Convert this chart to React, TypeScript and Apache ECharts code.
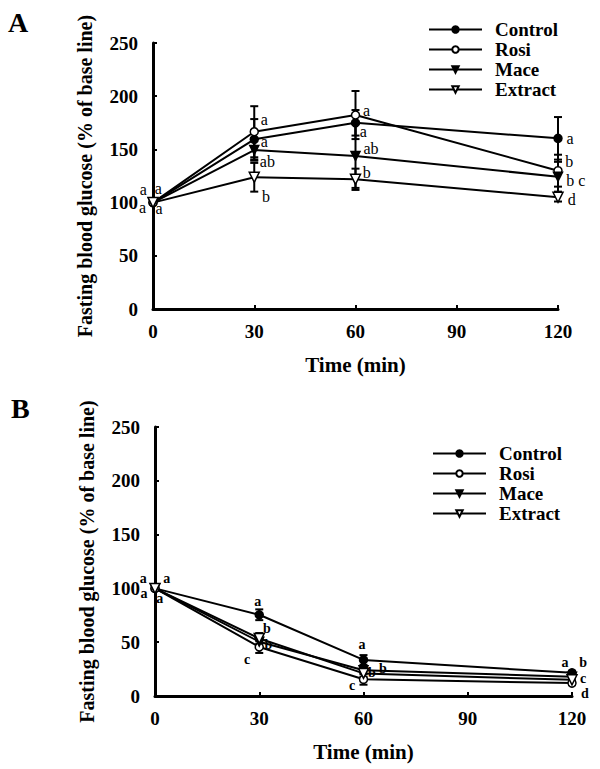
import React, { useEffect, useRef } from 'react';
import * as echarts from 'echarts';

const times = [0, 30, 60, 120];
const seriesNames = ['Control', 'Rosi', 'Mace', 'Extract'];
const xTicks = [0, 30, 60, 90, 120];
const yTicks = [0, 50, 100, 150, 200, 250];

// Panel A values (% of base line) and SEM
const aControl = [100, 159.5, 175, 160.4];
const aControlErr = [0, 19, 12, 20];
const aRosi = [100, 166.6, 182.3, 130];
const aRosiErr = [0, 24, 22.6, 15];
const aMace = [100, 149.4, 143.8, 124.3];
const aMaceErr = [0, 10, 30, 14];
const aExtract = [100, 123.8, 121.9, 105];
const aExtractErr = [0, 13.5, 10, 4];

// Panel B values
const bControl = [100, 75.5, 33.5, 21.5];
const bControlErr = [0, 5, 4.5, 2];
const bRosi = [100, 45.5, 15.5, 12];
const bRosiErr = [0, 5.5, 5, 2];
const bMace = [100, 50.5, 24, 18];
const bMaceErr = [0, 5, 3, 2];
const bExtract = [100, 53.5, 21, 15];
const bExtractErr = [0, 5, 3, 2];

// Significance letters: [time, value, text]
const aLetters: [number, number, string][] = [
  [-2.9, 112, 'a'], [1.6, 113, 'a'], [-3.1, 95, 'a'], [1.8, 94, 'a'],
  [33, 178, 'a'], [33, 157.5, 'a'], [33.9, 139, 'ab'], [33.5, 105.5, 'b'],
  [63.3, 187, 'a'], [62.3, 167, 'a'], [64.6, 150.5, 'ab'], [63.3, 128, 'b'],
  [123.6, 160.4, 'a'], [123.3, 139, 'b'], [125.3, 121, 'b c'], [124.1, 103, 'd'],
];
const bLetters: [number, number, string][] = [
  [-3.4, 109, 'a'], [3.4, 109, 'a'], [-3.2, 95, 'a'], [1.4, 91, 'a'],
  [29.6, 87.4, 'a'], [32.2, 63, 'b'], [32.6, 48, 'b'], [26.5, 33.5, 'c'],
  [59.6, 47.4, 'a'], [56.7, 10.2, 'c'], [62.4, 21.4, 'b'], [65.6, 25.1, 'b'],
  [118, 31, 'a'], [123.2, 31.5, 'b'], [123.2, 16.5, 'c'], [123.7, 2, 'd'],
];

const FONT = '"Liberation Serif", "Times New Roman", serif';

const symbols: Record<string, any> = {
  Control: { symbol: 'circle', size: 8, rotate: 0, fill: '#000' },
  Rosi: { symbol: 'circle', size: 8, rotate: 0, fill: '#fff' },
  Mace: { symbol: 'triangle', size: 9, rotate: 180, fill: '#000' },
  Extract: { symbol: 'triangle', size: 10, rotate: 180, fill: '#fff' },
};

function lineSeries(name: string, g: number, vals: number[]) {
  const s = symbols[name];
  return {
    type: 'line',
    name,
    xAxisIndex: g,
    yAxisIndex: g,
    data: times.map((t, i) => [t, vals[i]]),
    symbol: s.symbol,
    symbolSize: s.size,
    symbolRotate: s.rotate,
    showAllSymbol: true,
    itemStyle: { color: s.fill, borderColor: '#000', borderWidth: 1.5 },
    lineStyle: { color: '#000', width: 2 },
    z: 3,
  };
}

function errSeries(g: number, vals: number[], errs: number[]) {
  const data = times
    .map((t, i) => [t, vals[i] - errs[i], vals[i] + errs[i]])
    .filter((_, i) => errs[i] > 0);
  return {
    type: 'custom',
    xAxisIndex: g,
    yAxisIndex: g,
    silent: true,
    z: 2,
    data,
    renderItem: (params: any, api: any) => {
      const lo = api.coord([api.value(0), api.value(1)]);
      const hi = api.coord([api.value(0), api.value(2)]);
      const w = 4;
      const style = { stroke: '#000', lineWidth: 2 };
      return {
        type: 'group',
        children: [
          { type: 'line', shape: { x1: lo[0], y1: lo[1], x2: hi[0], y2: hi[1] }, style },
          { type: 'line', shape: { x1: lo[0] - w, y1: lo[1], x2: lo[0] + w, y2: lo[1] }, style },
          { type: 'line', shape: { x1: hi[0] - w, y1: hi[1], x2: hi[0] + w, y2: hi[1] }, style },
        ],
      };
    },
  };
}

function letterSeries(g: number, letters: [number, number, string][], bold: boolean) {
  return {
    type: 'custom',
    xAxisIndex: g,
    yAxisIndex: g,
    silent: true,
    z: 5,
    data: letters.map((l) => [l[0], l[1]]),
    renderItem: (params: any, api: any) => {
      const p = api.coord([api.value(0), api.value(1)]);
      return {
        type: 'text',
        x: p[0],
        y: p[1],
        style: {
          text: letters[params.dataIndex][2],
          fontFamily: FONT,
          fontSize: bold ? 14 : 16,
          fontWeight: bold ? 'bold' : 'normal',
          fill: '#000',
          align: 'center',
          verticalAlign: 'middle',
        },
      };
    },
  };
}

function xAxis(g: number) {
  return {
    type: 'value',
    gridIndex: g,
    min: xTicks[0],
    max: xTicks[xTicks.length - 1],
    interval: 30,
    axisLine: { show: true, onZero: false, lineStyle: { color: '#000', width: 3 } },
    axisTick: { show: true, inside: true, length: 4, lineStyle: { color: '#000', width: 2 } },
    splitLine: { show: false },
    axisLabel: { color: '#000', fontFamily: FONT, fontWeight: 'bold', fontSize: 19, margin: 13 },
    name: 'Time (min)',
    nameLocation: 'middle',
    nameGap: 45,
    nameTextStyle: { color: '#000', fontFamily: FONT, fontWeight: 'bold', fontSize: 21 },
  };
}

function yAxis(g: number) {
  return {
    type: 'value',
    gridIndex: g,
    min: yTicks[0],
    max: yTicks[yTicks.length - 1],
    interval: 50,
    axisLine: { show: true, onZero: false, lineStyle: { color: '#000', width: 3 } },
    axisTick: { show: true, inside: true, length: 4, lineStyle: { color: '#000', width: 2 } },
    splitLine: { show: false },
    axisLabel: { color: '#000', fontFamily: FONT, fontWeight: 'bold', fontSize: 19, margin: 15 },
    name: 'Fasting blood glucose (% of base line)',
    nameLocation: 'middle',
    nameGap: 58,
    nameRotate: 90,
    nameTextStyle: { color: '#000', fontFamily: FONT, fontWeight: 'bold', fontSize: 20 },
  };
}

function legend(left: number, top: number) {
  return {
    data: seriesNames,
    orient: 'vertical',
    left,
    top,
    itemWidth: 53,
    itemHeight: 8,
    itemGap: 1,
    selectedMode: false,
    textStyle: {
      color: '#000',
      fontFamily: FONT,
      fontWeight: 'bold',
      fontSize: 19,
      lineHeight: 19,
      padding: [0, 0, 0, 8],
    },
  };
}

export default function App() {
  const ref = useRef<HTMLDivElement>(null);
  useEffect(() => {
    if (!ref.current) return;
    const chart = echarts.init(ref.current, undefined, { renderer: 'svg' });
    const option: any = {
      animation: false,
      backgroundColor: '#fff',
      grid: [
        { left: 153, top: 43, width: 405, height: 266 },
        { left: 155, top: 427, width: 417, height: 269 },
      ],
      xAxis: [xAxis(0), xAxis(1)],
      yAxis: [yAxis(0), yAxis(1)],
      legend: [legend(423, 15), legend(427, 439)],
      graphic: [
        { type: 'text', left: 8, top: 8, style: { text: 'A', fontFamily: FONT, fontWeight: 'bold', fontSize: 28, fill: '#000' } },
        { type: 'text', left: 11, top: 394, style: { text: 'B', fontFamily: FONT, fontWeight: 'bold', fontSize: 28, fill: '#000' } },
      ],
      series: [
        errSeries(0, aControl, aControlErr),
        errSeries(0, aRosi, aRosiErr),
        errSeries(0, aMace, aMaceErr),
        errSeries(0, aExtract, aExtractErr),
        lineSeries('Control', 0, aControl),
        lineSeries('Rosi', 0, aRosi),
        lineSeries('Mace', 0, aMace),
        lineSeries('Extract', 0, aExtract),
        letterSeries(0, aLetters, false),
        errSeries(1, bControl, bControlErr),
        errSeries(1, bRosi, bRosiErr),
        errSeries(1, bMace, bMaceErr),
        errSeries(1, bExtract, bExtractErr),
        lineSeries('Control', 1, bControl),
        lineSeries('Rosi', 1, bRosi),
        lineSeries('Mace', 1, bMace),
        lineSeries('Extract', 1, bExtract),
        letterSeries(1, bLetters, true),
      ],
    };
    chart.setOption(option);
    return () => chart.dispose();
  }, []);
  return (
    <div
      ref={ref}
      style={{ position: 'absolute', left: 0, top: 0, width: 600, height: 769, background: '#fff' }}
    />
  );
}
